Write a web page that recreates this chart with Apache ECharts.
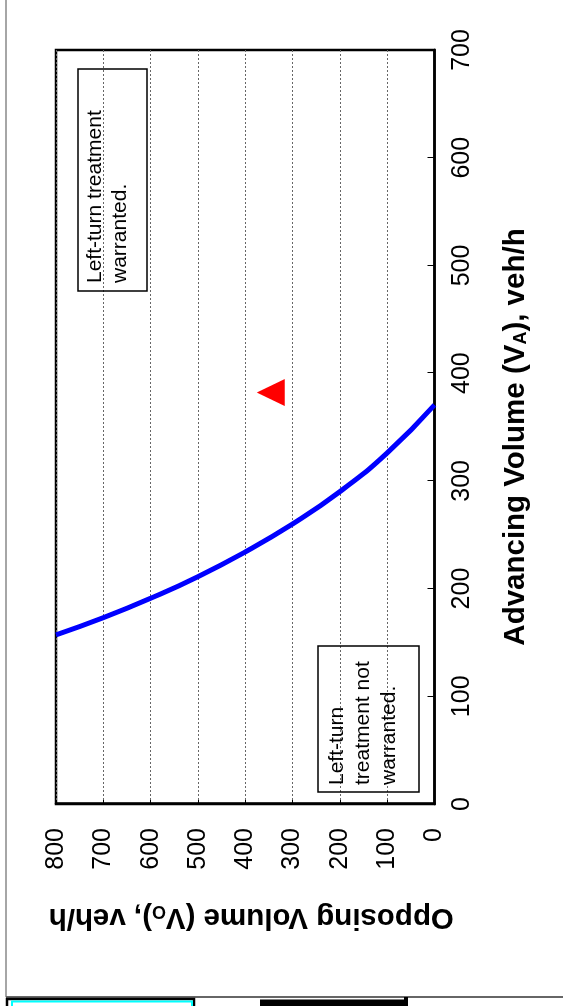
<!DOCTYPE html>
<html>
<head>
<meta charset="utf-8">
<script src="https://cdn.jsdelivr.net/npm/echarts@6/dist/echarts.min.js"></script>
<style>
  html, body { margin: 0; padding: 0; background: #fff; }
  #page { position: relative; width: 563px; height: 1006px; overflow: hidden; }
  /* the chart is drawn landscape and turned a quarter turn to the left */
  #chart { position: absolute; left: 0; top: 0; width: 1006px; height: 563px;
    transform-origin: 0 0; transform: translateY(1006px) rotate(-90deg); }
</style>
</head>
<body>
<div id="page"><div id="chart"></div></div>
<script>
  // warrant curve
  var opposingVolume = [800, 700, 600, 500, 400, 300, 200, 100, 0];
  var advancingVolume = [157, 173, 191, 211, 234, 260, 290, 326, 370.5];

  // the observed volumes (red triangle)
  var pointAdvancing = [382];
  var pointOpposing = [346];

  var advancingMax = 700;
  var opposingMax = 800;

  var font = 'Arial, "Liberation Sans", sans-serif';

  var curve = advancingVolume.map(function(a, i) { return [a, opposingVolume[i]]; });
  var point = pointAdvancing.map(function(a, i) { return [a, pointOpposing[i]]; });

  var chart = echarts.init(document.getElementById('chart'), null, { renderer: 'canvas' });

  var subStyle = { fontFamily: font, fontWeight: 'bold', fontSize: 18, lineHeight: 8, verticalAlign: 'bottom', color: '#000' };

  chart.setOption({
    backgroundColor: '#fff',
    animation: false,
    grid: {
      left: 202, right: 50, top: 56, bottom: 128.5,
      show: true, borderColor: '#000', borderWidth: 2.5, backgroundColor: 'transparent'
    },
    xAxis: {
      type: 'value', min: 0, max: advancingMax, interval: 100,
      name: 'Advancing Volume (V{sub|A}), veh/h',
      nameLocation: 'middle', nameGap: 66,
      nameTextStyle: {
        fontFamily: font, fontWeight: 'bold', fontSize: 29.5, lineHeight: 30, color: '#000',
        padding: [0, 20, 0, 0],
        rich: { sub: subStyle }
      },
      axisLine: { show: true, lineStyle: { color: '#000', width: 2.5 } },
      axisTick: { show: true, inside: true, length: 7, lineStyle: { color: '#000', width: 1 } },
      axisLabel: { margin: 15, fontFamily: font, fontSize: 25, color: '#000' },
      splitLine: { show: false }
    },
    yAxis: {
      type: 'value', min: 0, max: opposingMax, interval: 100,
      name: 'Opposing Volume (V{sub|O}), veh/h',
      nameLocation: 'middle', nameGap: 98,
      nameTextStyle: {
        fontFamily: font, fontWeight: 'bold', fontSize: 29.5, lineHeight: 30, color: '#000',
        padding: [0, 12, 0, 0],
        rich: { sub: subStyle }
      },
      axisLine: { show: true, lineStyle: { color: '#000', width: 2.5 } },
      axisTick: { show: true, inside: true, length: 4, lineStyle: { color: '#000', width: 1 } },
      axisLabel: { margin: 24, fontFamily: font, fontSize: 25, color: '#000' },
      splitLine: { show: true, lineStyle: { color: '#666', width: 1, type: [2, 2] } }
    },
    series: [
      {
        type: 'line', data: curve, smooth: true, symbol: 'none',
        lineStyle: { color: '#0000ff', width: 5 }, z: 3
      },
      {
        type: 'scatter', data: point, symbol: 'triangle', symbolSize: [27, 28],
        itemStyle: { color: '#ff0000', opacity: 1 }, z: 4
      }
    ],
    graphic: [
      // page frame
      { type: 'line', shape: { x1: 9, y1: 6, x2: 1006, y2: 6 }, style: { stroke: '#888', lineWidth: 1.5 } },
      { type: 'line', shape: { x1: 9, y1: 6, x2: 9, y2: 563 }, style: { stroke: '#666', lineWidth: 2 } },
      // the next objects on the page, cut off by the edge
      { type: 'rect', shape: { x: -3, y: 7, width: 10, height: 187 }, style: { fill: 'none', stroke: '#000', lineWidth: 2.5 } },
      { type: 'rect', shape: { x: -5, y: 12, width: 9.5, height: 180 }, style: { fill: 'none', stroke: '#00ffff', lineWidth: 2 } },
      { type: 'rect', shape: { x: 0, y: 260, width: 6.5, height: 148 }, style: { fill: '#000' } },
      { type: 'rect', shape: { x: 0, y: 404, width: 9, height: 4 }, style: { fill: '#000' } },
      // note boxes
      { type: 'rect', shape: { x: 715, y: 78, width: 222, height: 69 }, style: { fill: 'none', stroke: '#000', lineWidth: 1.5 }, z: 10 },
      { type: 'text', x: 723, y: 83, z: 10,
        style: { text: 'Left-turn treatment\nwarranted.', font: '21px ' + font, lineHeight: 25, fill: '#000', textVerticalAlign: 'top' } },
      { type: 'rect', shape: { x: 214, y: 318, width: 146, height: 101 }, style: { fill: 'none', stroke: '#000', lineWidth: 1.5 }, z: 10 },
      { type: 'text', x: 221, y: 324, z: 10,
        style: { text: 'Left-turn\ntreatment not\nwarranted.', font: '21px ' + font, lineHeight: 26, fill: '#000', textVerticalAlign: 'top' } }
    ]
  });
</script>
</body>
</html>
